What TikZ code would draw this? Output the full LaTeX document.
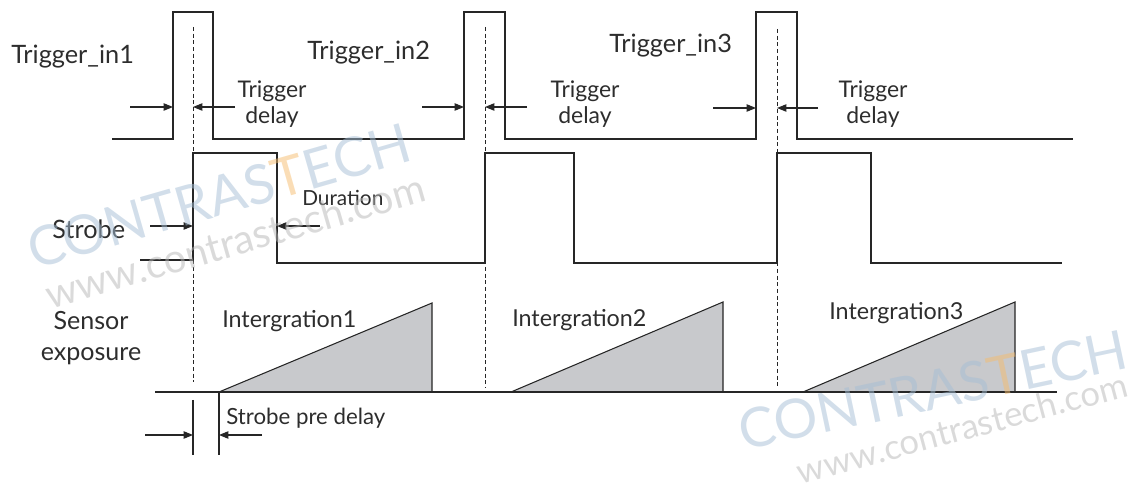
\documentclass[tikz,border=0pt]{standalone}
\usepackage{fontspec}
\setmainfont{Lato}
\usetikzlibrary{arrows.meta}
\definecolor{ln}{RGB}{38,38,38}
\definecolor{tx}{RGB}{45,45,45}
\definecolor{fillg}{RGB}{200,201,204}
\definecolor{wmblue}{RGB}{165,190,213}
\definecolor{wmorange}{RGB}{245,188,110}
\definecolor{wmgray}{RGB}{182,182,182}
\begin{document}
\begin{tikzpicture}[x=0.75pt,y=-0.75pt,
  sig/.style={draw=ln, line width=1.1pt, line join=miter},
  guide/.style={draw=ln, line width=0.6pt, dash pattern=on 3pt off 2pt},
  dimarrow/.style={draw=ln, line width=0.8pt, -{Triangle[length=7pt,width=5.5pt]}},
  tick/.style={draw=ln, line width=0.8pt},
  ramp/.style={draw=ln, line width=0.8pt, fill=fillg, line join=miter},
  biglbl/.style={text=tx, inner sep=0pt, font=\fontsize{19}{23}\selectfont},
  midlbl/.style={text=tx, inner sep=0pt, align=center, font=\fontsize{17.2}{20}\selectfont},
  wmbig/.style={inner sep=0pt, rotate=16, text opacity=0.5, font=\fontsize{41}{41}\selectfont},
  wmsmall/.style={inner sep=0pt, rotate=16, text=wmgray, text opacity=0.5, font=\fontsize{30}{30}\selectfont}]
\useasboundingbox (0,0) rectangle (1136,491);

% sensor exposure ramps
\coordinate (e0) at (155,392);
\coordinate (e1) at (1057,392);
\draw[ramp] (219,392) coordinate (r1a) -- (432,303) coordinate (r1b) -- (432,392) coordinate (r1c) -- cycle;
\draw[ramp] (511,392) coordinate (r2a) -- (723,302) coordinate (r2b) -- (723,392) coordinate (r2c) -- cycle;
\draw[ramp] (803,392) coordinate (r3a) -- (1015,302) coordinate (r3b) -- (1015,392) coordinate (r3c) -- cycle;
\draw[sig] (e0) -- (e1);

% dashed guides
\coordinate (g1t) at (193,27);  \coordinate (g1b) at (193,382);
\coordinate (g2t) at (485,27);  \coordinate (g2b) at (485,388);
\coordinate (g3t) at (777,29);  \coordinate (g3b) at (777,388);
\draw[guide] (g1t) -- (g1b);
\draw[guide] (g2t) -- (g2b);
\draw[guide] (g3t) -- (g3b);

% trigger signal
\draw[sig] (112,139) -- (173,139) -- (173,12) -- (213,12) -- (213,139)
  -- (464,139) -- (464,12) -- (505,12) -- (505,139)
  -- (756,139) -- (756,12) -- (797,12) -- (797,139) -- (1073,139);

% strobe signal
\draw[sig] (140,260) -- (193,260) -- (193,153) -- (277,153) -- (277,263)
  -- (485,263) -- (485,153) -- (574,153) -- (574,263)
  -- (777,263) -- (777,153) -- (871,153) -- (871,263) -- (1062,263);

% trigger delay arrows
\coordinate (a1s) at (130,107); \coordinate (a1e) at (173,107);
\coordinate (a2s) at (235,107); \coordinate (a2e) at (193,107);
\coordinate (a3s) at (422,107); \coordinate (a3e) at (464,107);
\coordinate (a4s) at (527,107); \coordinate (a4e) at (485,107);
\coordinate (a5s) at (713,108); \coordinate (a5e) at (756,108);
\coordinate (a6s) at (818,108); \coordinate (a6e) at (777,108);
\draw[dimarrow] (a1s) -- (a1e);
\draw[dimarrow] (a2s) -- (a2e);
\draw[dimarrow] (a3s) -- (a3e);
\draw[dimarrow] (a4s) -- (a4e);
\draw[dimarrow] (a5s) -- (a5e);
\draw[dimarrow] (a6s) -- (a6e);

% strobe duration arrows
\coordinate (s1s) at (150,226); \coordinate (s1e) at (193,226);
\coordinate (s2s) at (320,226); \coordinate (s2e) at (277,226);
\draw[dimarrow] (s1s) -- (s1e);
\draw[dimarrow] (s2s) -- (s2e);

% strobe pre delay
\draw[tick] (193,400) coordinate (t1a) -- (193,455) coordinate (t1b);
\draw[tick] (219,392) coordinate (t2a) -- (219,455) coordinate (t2b);
\coordinate (p1s) at (145,435); \coordinate (p1e) at (193,435);
\coordinate (p2s) at (262,435); \coordinate (p2e) at (219,435);
\draw[dimarrow] (p1s) -- (p1e);
\draw[dimarrow] (p2s) -- (p2e);

% labels
\node[biglbl, anchor=west] (ti1) at (11,57) {Trigger\_in1};
\node[biglbl, anchor=west] (ti2) at (307,53) {Trigger\_in2};
\node[biglbl, anchor=west] (ti3) at (609,46) {Trigger\_in3};
\node[midlbl] (td1) at (272,104) {Trigger\\delay};
\node[midlbl] (td2) at (585,104) {Trigger\\delay};
\node[midlbl] (td3) at (873,104) {Trigger\\delay};
\node[midlbl, anchor=west, font=\fontsize{15.6}{19}\selectfont] (dur) at (302,198) {Duration};
\node[biglbl, anchor=west] (strb) at (52,229) {Strobe};
\node[biglbl, align=center, font=\fontsize{18.8}{23.5}\selectfont] (sens) at (91,338) {Sensor\\exposure};
\node[biglbl, anchor=west, font=\fontsize{17.5}{21}\selectfont] (int1) at (222,321) {Intergration1};
\node[biglbl, anchor=west, font=\fontsize{17.5}{21}\selectfont] (int2) at (512,320) {Intergration2};
\node[biglbl, anchor=west, font=\fontsize{17.5}{21}\selectfont] (int3) at (829,313) {Intergration3};
\node[midlbl, anchor=west, font=\fontsize{16.7}{20}\selectfont] (spd) at (226,418) {Strobe pre delay};

% watermarks (overlaid, semi-transparent)
\node[wmbig] (wm1) at (219,196) {\textcolor{wmblue}{CONTRAS}\textcolor{wmorange}{T}\textcolor{wmblue}{ECH}};
\node[wmsmall] (wm1b) at (235,241) {www.contrastech.com};
\node[wmbig, rotate=-4] (wm2) at (933,390) {\textcolor{wmblue}{CONTRAS}\textcolor{wmorange}{T}\textcolor{wmblue}{ECH}};
\node[wmsmall, rotate=-1, font=\fontsize{26}{26}\selectfont] (wm2b) at (962,428) {www.contrastech.com};
\end{tikzpicture}
\end{document}
